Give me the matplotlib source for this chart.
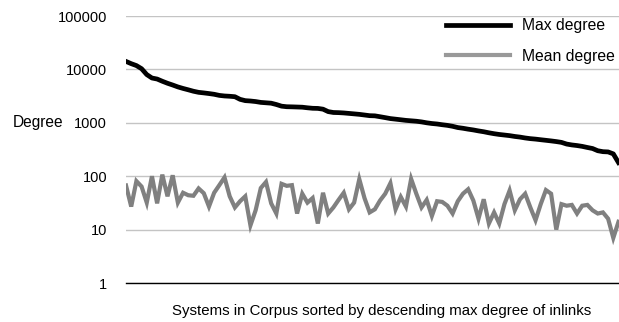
import matplotlib.pyplot as plt
import numpy as np

plt.rcParams['font.family'] = ['Liberation Sans', 'DejaVu Sans']

# Max and mean in-link degree per system, sorted by max degree
max_degree = [
    14100, 12800, 11800, 10300, 8000, 6900, 6600, 6000, 5500, 5100,
    4700, 4400, 4150, 3900, 3720, 3630, 3530, 3420, 3260, 3180,
    3140, 3080, 2750, 2600, 2560, 2500, 2410, 2370, 2330, 2200,
    2050, 2000, 1990, 1975, 1960, 1910, 1870, 1860, 1800, 1620,
    1560, 1550, 1530, 1500, 1470, 1440, 1400, 1360, 1350, 1300,
    1250, 1200, 1170, 1140, 1110, 1090, 1070, 1040, 1000, 970,
    950, 920, 895, 860, 815, 790, 760, 735, 705, 680,
    650, 625, 605, 590, 575, 555, 540, 520, 505, 495,
    482, 470, 458, 445, 430, 400, 385, 375, 362, 345,
    330, 300, 288, 285, 262, 180,
]
mean_degree = [
    67, 27, 81, 64, 32, 100, 31, 107, 42, 104,
    32, 49, 44, 43, 59, 48, 27, 49, 68, 95,
    42, 26, 34, 42, 12, 23, 60, 78, 31, 20,
    72, 66, 68, 20, 47, 32, 39, 13, 49, 20,
    26, 36, 49, 24, 32, 88, 39, 21, 24, 35,
    47, 74, 24, 41, 27, 89, 47, 26, 36, 18,
    34, 33, 28, 20, 34, 47, 57, 35, 16, 37,
    13, 21, 13, 30, 54, 23, 37, 47, 26, 15,
    30, 55, 47, 10, 30, 28, 29, 20, 28, 29,
    23, 20, 21, 16, 7, 14,
]
y_ticks = [1, 10, 100, 1000, 10000, 100000]
y_ticklabels = ['1', '10', '100', '1000', '10000', '100000']

systems = np.arange(len(max_degree))

fig = plt.figure(figsize=(6.19, 3.22), dpi=100)
ax = fig.add_axes([0.2036, 0.1211, 0.7964, 0.8292])

ax.plot(systems, max_degree, color='black', lw=3.4, label='Max degree',
        solid_joinstyle='round', zorder=3)
ax.plot(systems, mean_degree, color='#808080', lw=3.0, label='Mean degree',
        solid_joinstyle='miter', zorder=3)

ax.set_yscale('log')
ax.set_ylim(1, 100000)
ax.set_xlim(0, len(max_degree) - 0.9)
ax.set_yticks(y_ticks)
ax.set_yticklabels(y_ticklabels)
ax.minorticks_off()
ax.set_xticks([])
ax.tick_params(axis='y', length=0, pad=13.7, labelsize=10.5)
ax.grid(axis='y', color='#c4c4c4', lw=1.0)
for side in ['top', 'right', 'left']:
    ax.spines[side].set_visible(False)
ax.spines['bottom'].set_color('black')
ax.spines['bottom'].set_linewidth(1.0)

fig.text(0.02, 1 - 123 / 322, 'Degree', fontsize=11.2, va='center', ha='left')
fig.text(0.616, 1 - 311 / 322,
         'Systems in Corpus sorted by descending max degree of inlinks',
         fontsize=10.8, va='center', ha='center')

leg = ax.legend(loc='upper right', bbox_to_anchor=(0.9935, 0.944),
                bbox_transform=fig.transFigure, frameon=False,
                fontsize=11.3, handlelength=4.1, handletextpad=0.75,
                labelspacing=1.0, borderpad=0, borderaxespad=0)
leg.get_lines()[1].set_color('#999999')

fig.savefig('out.png', dpi=100)
